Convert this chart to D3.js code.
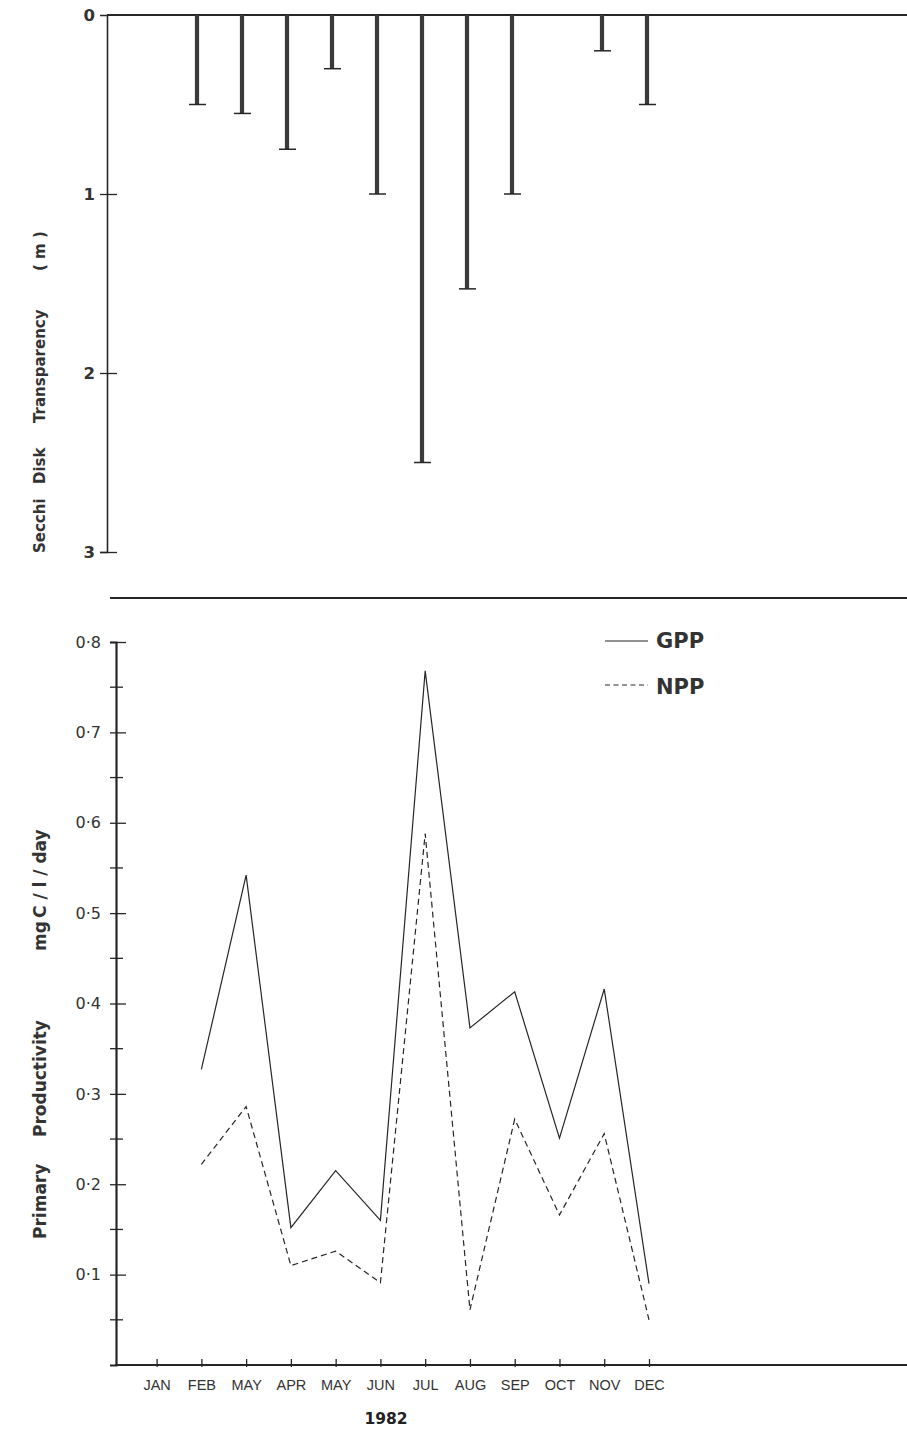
<!DOCTYPE html>
<html>
<head>
<meta charset="utf-8">
<script src="https://cdn.jsdelivr.net/npm/d3@7"></script>
<style>
  html, body { margin: 0; padding: 0; background: #fff; }
  svg { display: block; }
</style>
</head>
<body>
<svg id="chart" width="907" height="1430"></svg>
<script>
// Sampling months, 1982 (labels as printed on the axis)
const months = ["JAN", "FEB", "MAY", "APR", "MAY", "JUN", "JUL", "AUG", "SEP", "OCT", "NOV", "DEC"];

// Secchi disk transparency (m); null where no reading
const secchi = [null, 0.5, 0.55, 0.75, 0.3, 1.0, 2.5, 1.53, 1.0, null, 0.2, 0.5];

// Primary productivity, mg C / l / day
const gpp = [null, 0.327, 0.542, 0.152, 0.215, 0.160, 0.768, 0.373, 0.413, 0.251, 0.416, 0.090];
const npp = [null, 0.222, 0.286, 0.110, 0.126, 0.091, 0.588, 0.061, 0.272, 0.166, 0.256, 0.050];

const secchiTicks = [0, 1, 2, 3];
const ppMajorTicks = [0.1, 0.2, 0.3, 0.4, 0.5, 0.6, 0.7, 0.8];
const ppMinorTicks = [0.05, 0.15, 0.25, 0.35, 0.45, 0.55, 0.65, 0.75];

const svg = d3.select("#chart");
const ink = "#262626";
const textInk = "#333";
const boldFont = "'DejaVu Sans', Lato, sans-serif";
const idx = d3.range(months.length);

// rotated axis title built from words placed along the vertical
function verticalTitle(g, x, words, size) {
  words.forEach(([w, yStart]) => {
    g.append("text")
      .attr("transform", `translate(${x},${yStart}) rotate(-90)`)
      .attr("text-anchor", "start")
      .attr("font-family", boldFont).attr("font-weight", 700)
      .attr("font-size", size).attr("fill", textInk)
      .text(w);
  });
}

// ---------- upper panel: Secchi depth bars hanging from the surface ----------
const topLeft = 107, topRight = 907;
const xTop = d3.scalePoint().domain(idx).range([152, 647]);
const ySec = d3.scaleLinear().domain([0, 3]).range([15, 552]);

const gTop = svg.append("g");

// surface line
gTop.append("line")
  .attr("x1", topLeft).attr("x2", topRight)
  .attr("y1", ySec(0)).attr("y2", ySec(0))
  .attr("stroke", ink).attr("stroke-width", 1.8);

const axSec = d3.axisLeft(ySec).tickValues(secchiTicks).tickSize(7).tickPadding(5)
  .tickFormat(d3.format("d"));
const gAxSec = gTop.append("g").attr("transform", `translate(${topLeft},0)`).call(axSec);
gAxSec.select(".domain").attr("stroke", ink).attr("stroke-width", 1.6);
gAxSec.selectAll(".tick line").attr("stroke", ink).attr("stroke-width", 1.3)
  .attr("x1", d => d === 0 ? 0 : 10).attr("x2", d => d === 0 ? 0 : -7);
gAxSec.selectAll(".tick text")
  .attr("font-family", boldFont).attr("font-weight", 700)
  .attr("font-size", 16.5).attr("fill", textInk);

const secData = idx.filter(i => secchi[i] != null);
gTop.selectAll("line.bar").data(secData).join("line")
  .attr("class", "bar")
  .attr("x1", i => xTop(i)).attr("x2", i => xTop(i))
  .attr("y1", ySec(0)).attr("y2", i => ySec(secchi[i]))
  .attr("stroke", "#3a3a3a").attr("stroke-width", 4.2);
gTop.selectAll("line.cap").data(secData).join("line")
  .attr("class", "cap")
  .attr("x1", i => xTop(i) - 8).attr("x2", i => xTop(i) + 9)
  .attr("y1", i => ySec(secchi[i])).attr("y2", i => ySec(secchi[i]))
  .attr("stroke", ink).attr("stroke-width", 1.5);

verticalTitle(gTop, 45, [["Secchi", 553], ["Disk", 484], ["Transparency", 423], ["( m )", 271]], 15);

// panel separator
svg.append("line")
  .attr("x1", 110).attr("x2", 907).attr("y1", 598).attr("y2", 598)
  .attr("stroke", ink).attr("stroke-width", 1.8);

// ---------- lower panel: GPP and NPP lines ----------
const botLeft = 116, botRight = 907;
const xBot = d3.scalePoint().domain(idx).range([156.6, 649]);
const yPP = d3.scaleLinear().domain([0, 0.8]).range([1365, 642]);
const gBot = svg.append("g");

const dot = s => d3.format(".1f")(s).replace(".", "\u00b7");

// minor ticks
gBot.selectAll("line.minor").data(ppMinorTicks).join("line")
  .attr("class", "minor")
  .attr("x1", botLeft - 6).attr("x2", botLeft + 7)
  .attr("y1", d => yPP(d)).attr("y2", d => yPP(d))
  .attr("stroke", ink).attr("stroke-width", 1.3);

const axPP = d3.axisLeft(yPP).tickValues(ppMajorTicks).tickSize(6).tickPadding(9).tickFormat(dot);
const gAxPP = gBot.append("g").attr("transform", `translate(${botLeft},0)`).call(axPP);
gAxPP.select(".domain").attr("stroke", ink).attr("stroke-width", 2.2);
gAxPP.selectAll(".tick line").attr("stroke", ink).attr("stroke-width", 1.3).attr("x1", 10);
gAxPP.selectAll(".tick text")
  .attr("font-family", "'DejaVu Sans', 'Open Sans', sans-serif").attr("font-weight", 400)
  .attr("font-size", 16).attr("fill", textInk);

const axMonth = d3.axisBottom(xBot).tickSize(2).tickPadding(13).tickFormat(i => months[i]);
const gAxM = gBot.append("g").attr("transform", `translate(0,${yPP(0)})`).call(axMonth);
gAxM.select(".domain").remove();
gAxM.selectAll(".tick line").attr("stroke", ink).attr("stroke-width", 1.3).attr("y1", -6);
gAxM.selectAll(".tick text")
  .attr("font-family", "'Liberation Sans Narrow', 'Arial Narrow', 'Liberation Sans', sans-serif")
  .attr("font-size", 14.5).attr("fill", textInk);

// baseline
gBot.append("line")
  .attr("x1", botLeft - 1).attr("x2", botRight)
  .attr("y1", yPP(0)).attr("y2", yPP(0))
  .attr("stroke", ink).attr("stroke-width", 2.2);

const line = d3.line()
  .defined(d => d.v != null)
  .x(d => xBot(d.i)).y(d => yPP(d.v));

gBot.append("path")
  .datum(idx.map(i => ({ i, v: gpp[i] })))
  .attr("d", line).attr("fill", "none")
  .attr("stroke", ink).attr("stroke-width", 1.2).attr("stroke-linejoin", "miter");

gBot.append("path")
  .datum(idx.map(i => ({ i, v: npp[i] })))
  .attr("d", line).attr("fill", "none")
  .attr("stroke", ink).attr("stroke-width", 1.2).attr("stroke-dasharray", "6,4");

// legend
const legend = gBot.append("g");
legend.append("line").attr("x1", 605).attr("x2", 648).attr("y1", 641).attr("y2", 641)
  .attr("stroke", ink).attr("stroke-width", 1.2);
legend.append("line").attr("x1", 605).attr("x2", 648).attr("y1", 685).attr("y2", 685)
  .attr("stroke", ink).attr("stroke-width", 1.2).attr("stroke-dasharray", "5,3.5");
legend.append("text").attr("x", 656).attr("y", 648)
  .attr("font-family", boldFont).attr("font-weight", 700)
  .attr("font-size", 21).attr("fill", textInk).text("GPP");
legend.append("text").attr("x", 656).attr("y", 694)
  .attr("font-family", boldFont).attr("font-weight", 700)
  .attr("font-size", 21).attr("fill", textInk).text("NPP");

verticalTitle(gBot, 46, [["Primary", 1239], ["Productivity", 1137], ["mg", 951], ["C / l / day", 918]], 17);

gBot.append("text")
  .attr("x", 386).attr("y", 1424).attr("text-anchor", "middle")
  .attr("font-family", boldFont).attr("font-weight", 700)
  .attr("font-size", 15.5).attr("fill", "#222").text("1982");
</script>
</body>
</html>
